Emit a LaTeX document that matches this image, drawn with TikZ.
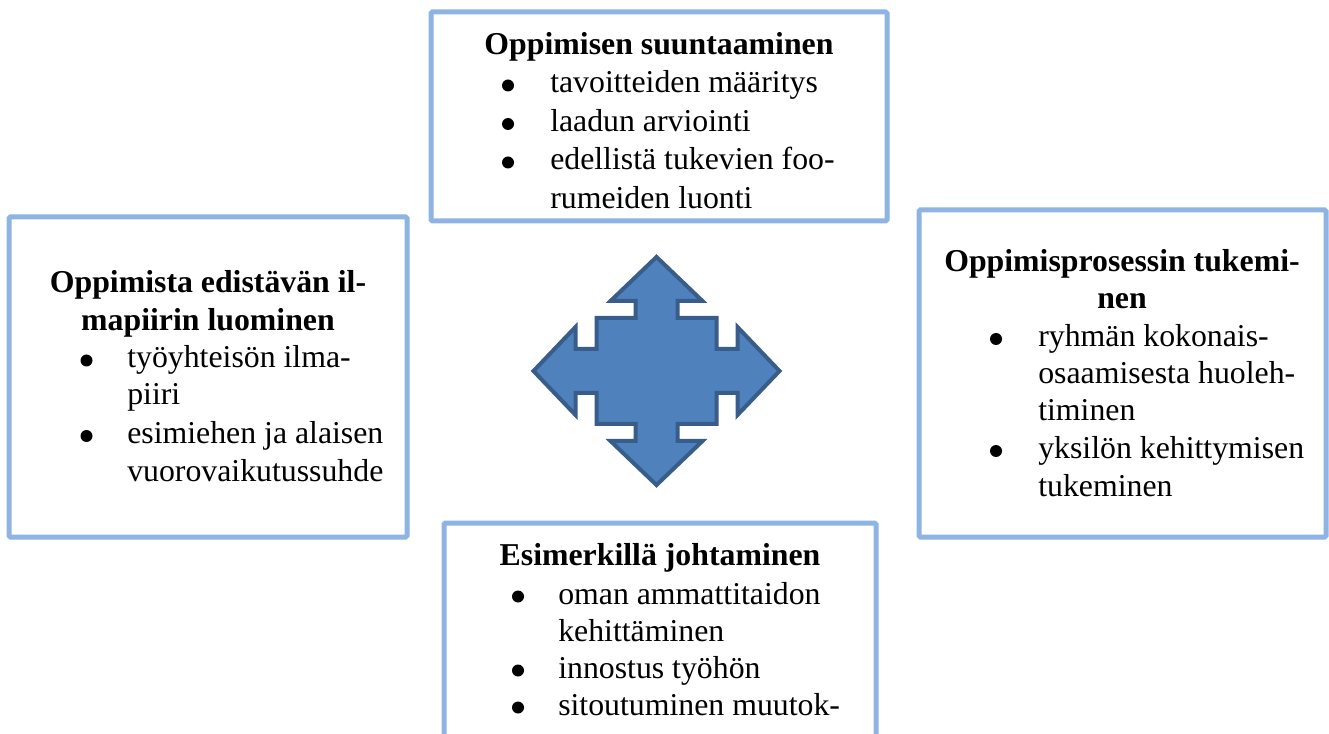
\documentclass[tikz,border=0pt]{standalone}
\usepackage{fontspec}
\setmainfont{Liberation Serif}
\definecolor{boxline}{RGB}{142,180,227}
\definecolor{arrowfill}{RGB}{79,129,189}
\definecolor{arrowline}{RGB}{56,93,138}
\tikzset{
  box/.style={draw=boxline, line width=3.75pt, fill=white, rounded corners=1pt, inner sep=0pt},
  head/.style={anchor=base, inner sep=0pt, font=\fontsize{23.85pt}{28pt}\selectfont\bfseries},
  item/.style={anchor=base west, inner sep=0pt, font=\fontsize{23.85pt}{28pt}\selectfont},
  dot/.style={fill=black}
}
\begin{document}
\begin{tikzpicture}[x=0.75pt,y=-0.75pt]
\useasboundingbox (0,0) rectangle (1329,734);
\clip (0,0) rectangle (1329,734);

% frames of the four themes
\node[box, minimum width=342pt, minimum height=156.75pt] (topbox) at (659,116.5) {};
\node[box, minimum width=298.5pt, minimum height=240pt] (leftbox) at (208,377) {};
\node[box, minimum width=305.25pt, minimum height=245.25pt] (rightbox) at (1122.5,373.5) {};
\node[box, minimum width=324pt, minimum height=177.75pt] (bottombox) at (660,641.5) {};

% four-way arrow in the middle
\begin{scope}[shift={(656.5,371)}]
\filldraw[fill=arrowfill, draw=arrowline, line width=3pt, line join=miter]
  (0,-114) -- (46,-70) -- (21,-70) -- (21,-53) -- (60,-53) -- (60,-22) -- (81,-22)
  -- (81,-44) -- (123,0) -- (81,44) -- (81,22) -- (60,22) -- (60,53) -- (21,53)
  -- (21,70) -- (46,70) -- (0,114) -- (-46,70) -- (-21,70) -- (-21,53) -- (-60,53)
  -- (-60,22) -- (-81,22) -- (-81,44) -- (-123,0) -- (-81,-44) -- (-81,-22)
  -- (-60,-22) -- (-60,-53) -- (-21,-53) -- (-21,-70) -- (-46,-70) -- cycle;
\end{scope}

% top: Oppimisen suuntaaminen
\node[head] (th) at (659,55) {Oppimisen suuntaaminen};
\node[item] (t1) at (550,93) {tavoitteiden määritys};
\node[item] (t2) at (550,131.5) {laadun arviointi};
\node[item] (t3) at (550,170) {edellistä tukevien foo-};
\node[item] (t4) at (550,208.5) {rumeiden luonti};
\fill[dot] (508,85.5) circle[radius=4.5pt];
\fill[dot] (508,124) circle[radius=4.5pt];
\fill[dot] (508,162.5) circle[radius=4.5pt];

% left: Oppimista edistävän ilmapiirin luominen
\node[head] (lh1) at (208,293) {Oppimista edistävän il-};
\node[head] (lh2) at (208,330.5) {mapiirin luominen};
\node[item] (l1) at (127,368) {työyhteisön ilma-};
\node[item] (l2) at (127,405) {piiri};
\node[item] (l3) at (127,443.5) {esimiehen ja alaisen};
\node[item] (l4) at (127,481.5) {vuorovaikutussuhde};
\fill[dot] (86.5,360.5) circle[radius=4.5pt];
\fill[dot] (86.5,436) circle[radius=4.5pt];

% right: Oppimisprosessin tukeminen
\node[head] (rh1) at (1122,272) {Oppimisprosessin tukemi-};
\node[head] (rh2) at (1122,309) {nen};
\node[item] (r1) at (1038,346.5) {ryhmän kokonais-};
\node[item] (r2) at (1038,384) {osaamisesta huoleh-};
\node[item] (r3) at (1038,421) {timinen};
\node[item] (r4) at (1038,458.5) {yksilön kehittymisen};
\node[item] (r5) at (1038,496) {tukeminen};
\fill[dot] (996,339) circle[radius=4.5pt];
\fill[dot] (996,451) circle[radius=4.5pt];

% bottom: Esimerkillä johtaminen
\node[head] (bh) at (660,565) {Esimerkillä johtaminen};
\node[item] (b1) at (558,604) {oman ammattitaidon};
\node[item] (b2) at (558,641) {kehittäminen};
\node[item] (b3) at (558,678) {innostus työhön};
\node[item] (b4) at (558,715) {sitoutuminen muutok-};
\fill[dot] (518,596.5) circle[radius=4.5pt];
\fill[dot] (518,670.5) circle[radius=4.5pt];
\fill[dot] (518,707.5) circle[radius=4.5pt];
\end{tikzpicture}
\end{document}
